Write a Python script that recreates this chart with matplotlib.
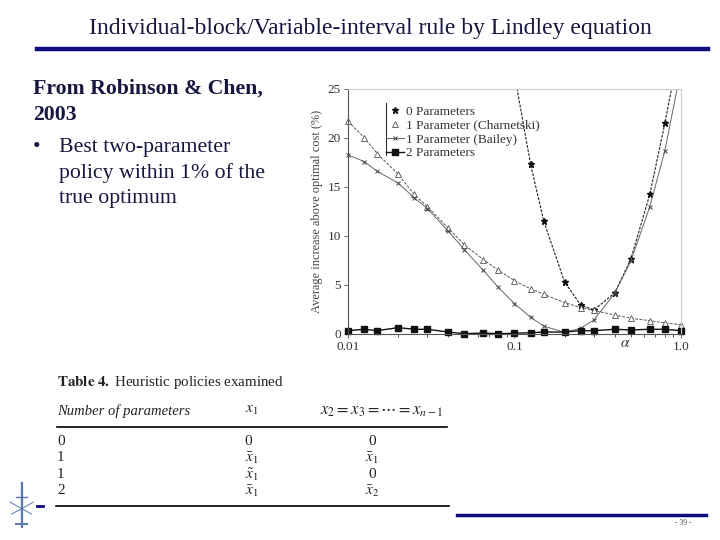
import numpy as np
import matplotlib
matplotlib.use("Agg")
import matplotlib.pyplot as plt
from matplotlib.lines import Line2D
from matplotlib import ticker, transforms

plt.rcParams['font.family'] = ['Liberation Serif', 'DejaVu Serif']
plt.rcParams['mathtext.fontset'] = 'stix'

# ---------------- data ----------------
alpha = [0.01, 0.0125, 0.015, 0.02, 0.025, 0.03, 0.04, 0.05, 0.065, 0.08,
         0.1, 0.125, 0.15, 0.2, 0.25, 0.3, 0.4, 0.5, 0.65, 0.8, 1.0]
zero_params = [np.nan, np.nan, np.nan, np.nan, np.nan, np.nan, np.nan, np.nan, np.nan, 38.0,
               26.5, 17.3, 11.5, 5.3, 2.95, 2.45, 4.2, 7.65, 14.25, 21.5, 30.0]
charnetski = [21.7, 20.05, 18.4, 16.3, 14.25, 13.0, 10.8, 9.1, 7.6, 6.5,
              5.45, 4.6, 4.05, 3.2, 2.7, 2.4, 1.94, 1.6, 1.36, 1.12, 0.95]
bailey = [18.27, 17.6, 16.6, 15.4, 13.9, 12.8, 10.5, 8.6, 6.5, 4.75,
          3.1, 1.7, 0.8, 0.17, 0.58, 1.43, 4.15, 7.45, 13.0, 18.7, 27.0]
two_params = [0.34, 0.48, 0.34, 0.65, 0.48, 0.48, 0.2, 0.03, 0.1, 0.03,
              0.07, 0.13, 0.2, 0.2, 0.34, 0.34, 0.48, 0.41, 0.48, 0.48, 0.34]
series_labels = ["0 Parameters", "1 Parameter (Charnetski)", "1 Parameter (Bailey)", "2 Parameters"]
yticks = [0, 5, 10, 15, 20, 25]
xtick_vals = [0.01, 0.1, 1.0]
xtick_labels = ["0.01", "0.1", "1.0"]

title = "Individual-block/Variable-interval rule by Lindley equation"
navy = "#16163f"
rule_blue = "#0c0c7c"

fig = plt.figure(figsize=(7.2, 5.4), dpi=100)

# ---------------- slide decorations ----------------
fig.text(0.514, 0.948, title, ha='center', va='center', fontsize=17, color=navy)
fig.add_artist(Line2D([0.052, 0.983], [0.910, 0.910], color=rule_blue, lw=3.2))

fs_body = 15.7
fig.text(0.046, 0.836, "From Robinson & Chen,", fontsize=fs_body, fontweight='bold', color=navy, va='center')
fig.text(0.046, 0.787, "2003", fontsize=fs_body, fontweight='bold', color=navy, va='center')
fig.text(0.046, 0.727, "\u2022", fontsize=fs_body, color=navy, va='center')
fig.text(0.082, 0.727, "Best two-parameter", fontsize=fs_body, color=navy, va='center')
fig.text(0.082, 0.680, "policy within 1% of the", fontsize=fs_body, color=navy, va='center')
fig.text(0.082, 0.632, "true optimum", fontsize=fs_body, color=navy, va='center')

# table
tc = "#222222"
fig.text(0.079, 0.291, r"$\mathbf{Table\ 4.}$ Heuristic policies examined", fontsize=10.8, color=tc, va='center')
fig.text(0.079, 0.239, "Number of parameters", fontsize=10.5, style='italic', color=tc, va='center')
fig.text(0.340, 0.239, r"$x_1$", fontsize=11, color=tc, va='center')
fig.text(0.445, 0.239, r"$x_2 = x_3 = \cdots = x_{n-1}$", fontsize=12, color=tc, va='center')
fig.add_artist(Line2D([0.079, 0.621], [0.209, 0.209], color='black', lw=1.2))
rows = [("0", "0", "0"),
        ("1", r"$\bar{x}_1$", r"$\bar{x}_1$"),
        ("1", r"$\tilde{x}_1$", "0"),
        ("2", r"$\bar{x}_1$", r"$\bar{x}_2$")]
row_y = [0.183, 0.152, 0.122, 0.091]
for (a, b, c), yy in zip(rows, row_y):
    fig.text(0.079, yy, a, fontsize=11, color=tc, va='center')
    fig.text(0.340, yy, b, fontsize=11, color=tc, va='center')
    fig.text(0.517, yy, c, fontsize=11, color=tc, va='center', ha='center')
fig.add_artist(Line2D([0.078, 0.624], [0.063, 0.063], color='black', lw=1.2))
fig.add_artist(Line2D([0.635, 0.981], [0.0463, 0.0463], color=rule_blue, lw=2.5))
fig.add_artist(Line2D([0.052, 0.060], [0.063, 0.063], color=rule_blue, lw=2))
fig.text(0.949, 0.031, "- 39 -", fontsize=5.5, color='#444444', ha='center', va='center')

# small logo sketch (bottom-left)
logo_c = '#5a78b0'
fig.add_artist(Line2D([0.030, 0.030], [0.025, 0.105], color=logo_c, lw=1.6))
fig.add_artist(Line2D([0.022, 0.038], [0.080, 0.080], color=logo_c, lw=1.0))
fig.add_artist(Line2D([0.022, 0.038], [0.030, 0.030], color=logo_c, lw=1.4))
for dx, dy in [(-0.016, 0.012), (0.016, 0.012), (-0.014, -0.010), (0.014, -0.010)]:
    fig.add_artist(Line2D([0.030, 0.030 + dx], [0.058, 0.058 + dy], color=logo_c, lw=0.7))

# ---------------- chart ----------------
ax = fig.add_axes([0.4833, 0.3815, 0.4625, 0.4537])
x = np.array(alpha)
z = np.array(zero_params)
c = np.array(charnetski)
b = np.array(bailey)
t = np.array(two_params)

ax.plot(x, z, color='#222222', lw=0.8, ls=(0, (2.5, 1.2)))
mz = z <= 25
ax.plot(x[mz], z[mz], ls='none', marker='*', ms=4.5, color='#111111', clip_on=False)

ax.plot(x, c, color='#555555', lw=0.7, ls=(0, (3, 1.5)), marker='^', ms=4,
        mfc='white', mec='#555555', mew=0.6, clip_on=False)

ax.plot(x, b, color='#666666', lw=0.7)
mb = b <= 25
ax.plot(x[mb], b[mb], ls='none', marker='x', ms=3.5, mec='#444444', mew=0.7, clip_on=False)

ax.plot(x, t, color='#111111', lw=1.0, marker='s', ms=3.8, clip_on=False)

ax.set_xscale('log')
ax.set_xlim(0.01, 1.0)
ax.set_ylim(0, 25)
ax.set_yticks(yticks)
ax.set_xticks(xtick_vals)
ax.xaxis.set_major_formatter(ticker.FixedFormatter(xtick_labels))
ax.xaxis.set_minor_locator(ticker.LogLocator(base=10, subs=np.arange(2, 10)))
ax.xaxis.set_minor_formatter(ticker.NullFormatter())
ax.tick_params(axis='both', which='major', labelsize=9.5, colors='#555555', labelcolor='#333333',
               length=3, width=0.6, direction='out', pad=2)
ax.tick_params(axis='x', which='minor', length=2.5, width=0.6, colors='#333333', direction='out')
for s in ['left', 'bottom']:
    ax.spines[s].set_color('#555555')
    ax.spines[s].set_linewidth(0.8)
for s in ['top', 'right']:
    ax.spines[s].set_color('#cccccc')
    ax.spines[s].set_linewidth(0.8)
ax.set_ylabel("Average increase above optimal cost (%)", fontsize=8.9, color='#444444', labelpad=3)
trans = transforms.blended_transform_factory(ax.transData, ax.transAxes)
ax.text(0.46, -0.04, r"$\alpha$", transform=trans, ha='center', va='center',
        fontsize=11, color='#333333')

handles = [
    Line2D([], [], ls='none', marker='*', ms=4.5, color='#111111'),
    Line2D([], [], ls='none', marker='^', ms=4, mfc='white', mec='#555555', mew=0.6),
    Line2D([], [], color='#666666', lw=0.7, marker='x', ms=3.5, mec='#444444', mew=0.7),
    Line2D([], [], color='#111111', lw=1.0, marker='s', ms=3.8),
]
leg = ax.legend(handles, series_labels, loc='upper left', bbox_to_anchor=(0.114, 0.932),
                frameon=False, fontsize=9.5, handlelength=1.35, handletextpad=0.15,
                labelspacing=0.12, borderaxespad=0, borderpad=0)
for txt in leg.get_texts():
    txt.set_color('#333333')
ax.plot([0.114, 0.114], [0.731, 0.943], transform=ax.transAxes, color='#333333', lw=0.8)

fig.savefig("out.png", dpi=100)
